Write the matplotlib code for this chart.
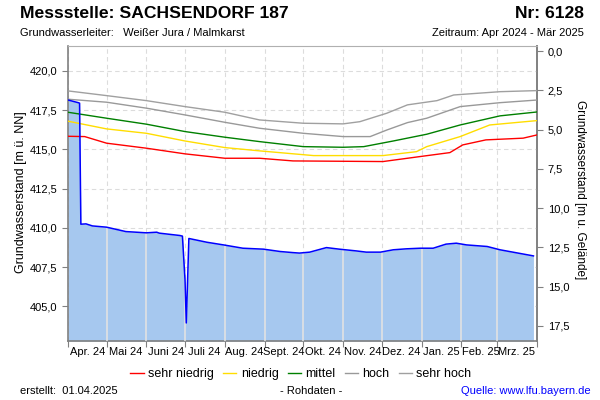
import pandas as pd
import matplotlib
matplotlib.use("Agg")
import matplotlib.pyplot as plt
import matplotlib.dates as mdates
from matplotlib.ticker import FuncFormatter, MultipleLocator
from matplotlib.lines import Line2D

plt.rcParams['font.family'] = ['Liberation Sans', 'DejaVu Sans']

start = pd.Timestamp('2024-04-01')
gw_tage = [0, 8, 9, 10, 14, 19, 30, 45, 61, 69, 71, 87, 89, 91, 92, 94, 108, 121, 136,
           152, 165, 175, 180, 188, 201, 211, 224, 232, 243, 253, 263, 274, 284, 294,
           302, 310, 326, 336, 346, 362]
gw_stand = [418.15, 417.98, 417.95, 410.24, 410.26, 410.13, 410.05, 409.77, 409.69,
            409.73, 409.67, 409.52, 409.48, 406.69, 403.95, 409.33, 409.09, 408.92,
            408.71, 408.65, 408.50, 408.43, 408.40, 408.46, 408.75, 408.65, 408.54,
            408.46, 408.46, 408.61, 408.67, 408.71, 408.71, 408.97, 409.03, 408.92,
            408.82, 408.61, 408.46, 408.22]

# Kennwerte
sh_tage = [0, 30, 61, 91, 122, 149, 183, 214, 227, 248, 264, 287, 300, 336, 365]
sehr_hoch = [418.73, 418.43, 418.11, 417.73, 417.37, 416.88, 416.67, 416.63, 416.77,
             417.31, 417.84, 418.11, 418.47, 418.68, 418.75]
h_tage = [0, 30, 61, 91, 122, 149, 183, 214, 235, 248, 264, 279, 305, 336, 365]
hoch = [418.20, 418.01, 417.63, 417.20, 416.73, 416.35, 416.03, 415.82, 415.82,
        416.24, 416.71, 416.99, 417.73, 417.98, 418.15]
m_tage = [0, 30, 61, 91, 122, 149, 183, 214, 230, 253, 279, 305, 336, 365]
mittel = [417.37, 416.99, 416.61, 416.14, 415.78, 415.50, 415.18, 415.14, 415.18,
          415.54, 415.97, 416.56, 417.14, 417.39]
n_tage = [0, 30, 61, 91, 122, 149, 191, 245, 271, 279, 305, 328, 365]
niedrig = [416.80, 416.31, 416.03, 415.54, 415.12, 414.91, 414.61, 414.61, 414.86,
           415.18, 415.82, 416.56, 416.84]
sn_tage = [0, 13, 30, 61, 91, 122, 149, 175, 245, 274, 297, 307, 325, 354, 365]
sehr_niedrig = [415.84, 415.82, 415.40, 415.08, 414.72, 414.44, 414.44, 414.27, 414.23,
                414.55, 414.80, 415.29, 415.61, 415.72, 415.93]

gelaende = 421.27  # Geländehöhe m ü. NN
monate = ['Apr. 24', 'Mai 24', 'Juni 24', 'Juli 24', 'Aug. 24', 'Sept. 24', 'Okt. 24',
          'Nov. 24', 'Dez. 24', 'Jan. 25', 'Feb. 25', 'Mrz. 25']


def to_dates(tage):
    return start + pd.to_timedelta(tage, unit='D')


ymin, ymax = 402.8, 421.59

fig = plt.figure(figsize=(6, 4), dpi=100)
ax = fig.add_axes([68 / 600, 1 - 341 / 400, (537.3 - 68) / 600, (341 - 46) / 400])

# Grundwasserstand mit Füllung
gw_x = to_dates(gw_tage)
poly = ax.fill_between(gw_x, gw_stand, ymin, color='#a6c8ef', linewidth=0, zorder=2)
ax.plot(gw_x, gw_stand, color='#0000ff', linewidth=1.1, zorder=5)

# helle Monatslinien innerhalb der Füllung
for m in pd.date_range('2024-05-01', '2025-03-01', freq='MS'):
    ln = ax.axvline(m, color='#e2e2e2', linewidth=1.2, zorder=3)
    ln.set_clip_path(poly.get_paths()[0], ax.transData)

# Kennlinien
kennwerte = [
    (sn_tage, sehr_niedrig, '#ff0000', 'sehr niedrig'),
    (n_tage, niedrig, '#ffdd00', 'niedrig'),
    (m_tage, mittel, '#008000', 'mittel'),
    (h_tage, hoch, '#999999', 'hoch'),
    (sh_tage, sehr_hoch, '#a0a0a0', 'sehr hoch'),
]
for tage, werte, farbe, name in kennwerte:
    ax.plot(to_dates(tage), werte, color=farbe, linewidth=1.0, zorder=4)

ax.set_xlim(start, pd.Timestamp('2025-04-01'))
ax.set_ylim(ymin, ymax)

komma = FuncFormatter(lambda v, p: f"{v:.1f}".replace('.', ','))
ax.yaxis.set_major_locator(MultipleLocator(2.5))
ax.yaxis.set_major_formatter(komma)

ax.xaxis.set_major_locator(mdates.MonthLocator())
ax.xaxis.set_major_formatter(plt.NullFormatter())
ax.xaxis.set_minor_locator(mdates.MonthLocator(bymonthday=16))
ax.xaxis.set_minor_formatter(FuncFormatter(lambda v, p: monate[(mdates.num2date(v).month - 4) % 12]))
ax.tick_params(axis='x', which='major', length=4, color='#808080')
ax.tick_params(axis='x', which='minor', length=0, labelsize=8, pad=4)
ax.tick_params(axis='y', length=4, color='#808080', labelsize=8)

ax.set_axisbelow(True)
ax.grid(True, which='major', linestyle=(0, (4, 3)), color='#dcdcdc', linewidth=0.8, zorder=0)

for s in ['left', 'bottom', 'right']:
    ax.spines[s].set_color('#808080')
    ax.spines[s].set_linewidth(1.2)
ax.spines['top'].set_color('#b0b0b0')

sec = ax.secondary_yaxis('right', functions=(lambda x: gelaende - x, lambda x: gelaende - x))
sec.yaxis.set_major_locator(MultipleLocator(2.5))
sec.yaxis.set_major_formatter(komma)
sec.tick_params(length=4, color='#808080', labelsize=8)
sec.spines['right'].set_color('#808080')
sec.spines['right'].set_linewidth(1.2)

# Texte
fig.text(20 / 600, 1 - 14 / 400, 'Messstelle: SACHSENDORF 187', fontsize=12.6,
         weight='bold', va='center', ha='left')
fig.text(584 / 600, 1 - 14 / 400, 'Nr: 6128', fontsize=12.6, weight='bold',
         va='center', ha='right')
fig.text(20 / 600, 1 - 33 / 400, 'Grundwasserleiter:   Weißer Jura / Malmkarst',
         fontsize=8, va='center', ha='left')
fig.text(584 / 600, 1 - 33 / 400, 'Zeitraum: Apr 2024 - Mär 2025', fontsize=8,
         va='center', ha='right')
fig.text(21 / 600, 1 - 192 / 400, 'Grundwasserstand [m ü. NN]', fontsize=9,
         rotation=90, va='center', ha='center')
fig.text(580 / 600, 1 - 190 / 400, 'Grundwasserstand [m u. Gelände]', fontsize=8.5,
         rotation=270, va='center', ha='center')

handles = [Line2D([], [], color=f, linewidth=1.0) for _, _, f, _ in kennwerte]
fig.legend(handles, [n for _, _, _, n in kennwerte], ncol=5, frameon=False,
           loc='center', bbox_to_anchor=(301 / 600, 1 - 374 / 400), fontsize=9,
           handlelength=1.05, handletextpad=0.35, columnspacing=0.75)

fig.text(20 / 600, 1 - 391 / 400, 'erstellt:  01.04.2025', fontsize=8, va='center')
fig.text(311 / 600, 1 - 391 / 400, '- Rohdaten -', fontsize=8, va='center', ha='center')
fig.text(591 / 600, 1 - 391 / 400, 'Quelle: www.lfu.bayern.de', fontsize=8,
         va='center', ha='right', color='#0000ff')

fig.savefig('out.png', dpi=100)
